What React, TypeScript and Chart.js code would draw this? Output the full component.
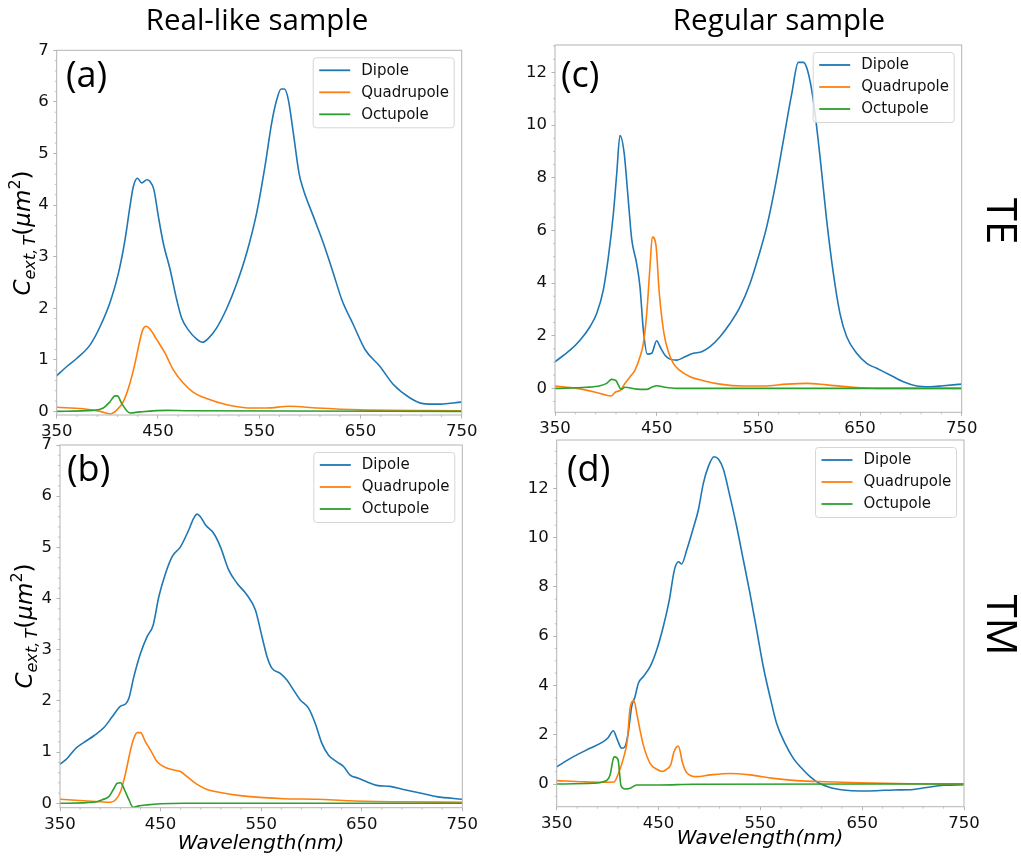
import React, { useEffect, useRef } from 'react';
import { Chart, registerables } from 'chart.js';

Chart.register(...registerables);

const W = 1021;
const H = 856;

// ---------- text & ticks ----------
const SERIES_LABELS = ['Dipole', 'Quadrupole', 'Octupole'];
const SERIES_COLORS = ['#1f77b4', '#ff7f0e', '#2ca02c'];
const X_TICKS = [350, 450, 550, 650, 750];
const X_MINOR_STEP = 20;
const Y_TICKS_REAL = [0, 1, 2, 3, 4, 5, 6, 7];
const Y_TICKS_REG = [0, 2, 4, 6, 8, 10, 12];
const COLUMN_TITLES = ['Real-like sample', 'Regular sample'];
const ROW_LABELS = ['TE', 'TM'];
const PANEL_LABELS = ['(a)', '(b)', '(c)', '(d)'];
const X_TITLE = 'Wavelength(nm)';

type Pt = [number, number];

// ---------- data: [wavelength nm, C_ext (um^2)] ----------
// (a) Real-like sample, TE
const A_DIPOLE: Pt[] = [
  [350, 0.69], [360, 0.87], [370, 1.03], [383, 1.29], [393, 1.65], [403, 2.13], [411, 2.68],
  [417.5, 3.33], [422.4, 3.98], [425.7, 4.36], [429.7, 4.52], [434, 4.43], [439, 4.49],
  [442, 4.46], [446, 4.3], [450.4, 3.78], [455.3, 3.26], [462, 2.75], [468.5, 2.17],
  [473.4, 1.81], [480, 1.58], [488.3, 1.4], [494, 1.34], [500, 1.42], [508, 1.62], [518, 2.0],
  [528, 2.49], [537.6, 3.07], [547.5, 3.85], [555.7, 4.75], [562.3, 5.59], [567.3, 6.04],
  [571.6, 6.25], [575, 6.25], [578.8, 6.04], [583.7, 5.4], [589.3, 4.62], [593.6, 4.3],
  [603.5, 3.78], [613.4, 3.26], [623.2, 2.68], [631.5, 2.17], [643, 1.68], [654.5, 1.2],
  [669.3, 0.87], [682.5, 0.52], [699, 0.26], [712, 0.15], [725, 0.14], [750, 0.18],
];
const A_QUAD: Pt[] = [
  [350, 0.08], [376, 0.05], [393, 0.0], [402.7, -0.05], [409, 0.02], [415.8, 0.19],
  [422.4, 0.55], [427.4, 0.94], [432.3, 1.39], [435, 1.58], [438.2, 1.65], [442, 1.6],
  [448.8, 1.39], [457, 1.13], [465, 0.81], [475, 0.55], [485, 0.37], [498, 0.25], [518, 0.13],
  [544, 0.065], [557, 0.065], [580, 0.1], [607, 0.065], [650, 0.03], [750, 0.013],
];
const A_OCT: Pt[] = [
  [350, 0], [386, 0.02], [396, 0.065], [402.7, 0.19], [407.6, 0.3], [410, 0.3], [414, 0.16],
  [422.4, -0.03], [432, -0.01], [458.6, 0.02], [478, 0.013], [750, 0],
];

// (b) Real-like sample, TM
const B_DIPOLE: Pt[] = [
  [350, 0.76], [357.3, 0.88], [365.5, 1.07], [373.8, 1.19], [383.7, 1.32], [393.7, 1.48],
  [401.9, 1.69], [410.2, 1.9], [415.2, 1.94], [418.5, 2.05], [423.4, 2.47], [430.1, 2.93],
  [436.7, 3.26], [442.6, 3.48], [448.3, 4.04], [454.9, 4.49], [461.5, 4.82], [469.8, 5.01],
  [478, 5.34], [483, 5.57], [486.3, 5.65], [489.6, 5.6], [494.6, 5.44], [502.9, 5.27],
  [509.5, 5.01], [517.7, 4.56], [526, 4.3], [535.9, 4.07], [544.2, 3.78], [550.8, 3.26],
  [555.8, 2.87], [560.7, 2.64], [569, 2.54], [575.6, 2.41], [582.3, 2.21], [588.9, 2.02],
  [597.1, 1.86], [603.8, 1.56], [610.4, 1.17], [617, 0.94], [625.3, 0.81], [631.9, 0.72],
  [638.5, 0.55], [646.8, 0.49], [655, 0.42], [665, 0.35], [678.2, 0.33], [691.4, 0.27],
  [708, 0.2], [724.5, 0.13], [750, 0.08],
];
const B_QUAD: Pt[] = [
  [350, 0.08], [373.8, 0.05], [390.4, 0.03], [400.3, 0.02], [405.3, 0.07], [410.2, 0.23],
  [415.2, 0.59], [420.1, 1.04], [423.4, 1.27], [426.8, 1.38], [430.1, 1.38], [435, 1.2],
  [440, 1.04], [446.6, 0.81], [454.9, 0.7], [463.2, 0.65], [469.8, 0.62], [476.4, 0.52],
  [486.3, 0.37], [496.2, 0.27], [509.5, 0.21], [529.3, 0.15], [552.5, 0.11], [572.3, 0.09],
  [605.4, 0.08], [638.5, 0.05], [688.1, 0.03], [750, 0.02],
];
const B_OCT: Pt[] = [
  [350, 0], [383.7, 0.02], [392, 0.07], [398.6, 0.13], [403.6, 0.29], [406.9, 0.39],
  [410.2, 0.4], [414.2, 0.26], [418.5, 0.07], [422.8, -0.08], [428.4, -0.05], [436.7, -0.03],
  [449.9, -0.01], [473, 0], [750, 0],
];

// (c) Regular sample, TE
const C_DIPOLE: Pt[] = [
  [350, 1.01], [364.8, 1.45], [374.6, 1.83], [384.4, 2.34], [391, 2.84], [397.5, 3.73],
  [402.5, 4.99], [407.4, 6.63], [410.7, 8.15], [413.9, 9.6], [417.9, 8.97], [422.1, 7.14],
  [425.4, 5.68], [430.3, 4.74], [433.6, 3.85], [436.9, 2.21], [440.8, 1.3], [445.1, 1.33],
  [450, 1.81], [453.3, 1.58], [458.2, 1.26], [463.1, 1.11], [469.7, 1.07], [477.9, 1.2],
  [486.1, 1.33], [494.3, 1.39], [502.5, 1.58], [512.3, 1.96], [522.1, 2.46], [532, 3.09],
  [541.8, 3.98], [550, 4.99], [558.2, 6.13], [566.4, 7.64], [574.6, 9.41], [582.8, 11.18],
  [589.3, 12.38], [594.3, 12.38], [598.5, 12.06], [604.1, 10.93], [610.7, 8.78],
  [617.2, 6.38], [623.8, 4.36], [630.3, 2.84], [636.9, 1.96], [646.7, 1.33], [656.6, 0.95],
  [666.4, 0.76], [679.5, 0.51], [692.6, 0.25], [705.7, 0.09], [718.9, 0.06], [732, 0.1],
  [750, 0.16],
];
const C_QUAD: Pt[] = [
  [350, 0.09], [371.3, 0.0], [387.7, -0.13], [397.5, -0.23], [405.1, -0.29], [410, -0.13],
  [413.9, -0.09], [418.9, 0.19], [423.8, 0.44], [428.7, 0.69], [433.6, 1.2], [436.9, 1.71],
  [440.2, 2.84], [443.4, 4.61], [445.7, 5.75], [449.3, 5.43], [452.6, 3.6], [457.2, 2.08],
  [461.5, 1.39], [466.4, 0.95], [473, 0.67], [482.8, 0.44], [495.9, 0.29], [512.3, 0.16],
  [535.2, 0.09], [554.9, 0.09], [577.9, 0.16], [597.5, 0.19], [617.2, 0.13], [643.4, 0.04],
  [666.4, 0.0], [750, 0],
];
const C_OCT: Pt[] = [
  [350, 0], [381, 0.04], [394.3, 0.1], [400.8, 0.19], [405.7, 0.34], [410, 0.29],
  [412.3, 0.13], [414.9, -0.04], [418.9, 0.04], [430.3, -0.03], [440.2, -0.04],
  [445.1, 0.04], [450, 0.1], [458.2, 0.04], [469.7, 0], [750, 0],
];

// (d) Regular sample, TM
const D_DIPOLE: Pt[] = [
  [350, 0.7], [366.4, 1.11], [382.7, 1.45], [395.8, 1.72], [400.7, 1.89], [405.6, 2.16],
  [409.6, 1.79], [413.8, 1.45], [417.1, 1.52], [420.4, 2.12], [423.6, 3.14], [426.9, 3.54],
  [430.2, 4.09], [435.1, 4.36], [441.7, 4.76], [448.2, 5.44], [454.7, 6.39], [460.6, 7.47],
  [465.6, 8.69], [469.5, 9.02], [472.7, 8.93], [477.7, 9.5], [483.6, 10.31], [489.1, 11.12],
  [494, 12.2], [498.9, 12.88], [504.5, 13.28], [508.8, 13.19], [513.7, 12.77], [520.2, 11.66],
  [526.8, 10.44], [533.3, 9.09], [539.8, 7.74], [546.4, 6.25], [552.9, 4.76], [559.5, 3.54],
  [566, 2.46], [574.2, 1.65], [582.4, 1.04], [590.6, 0.64], [598.8, 0.3], [607, 0.05],
  [618.4, -0.14], [631.5, -0.24], [647.9, -0.28], [664.2, -0.27], [680.6, -0.24],
  [700.2, -0.22], [713.3, -0.14], [729.7, -0.05], [750, -0.03],
];
const D_QUAD: Pt[] = [
  [350, 0.14], [376.2, 0.09], [395.8, 0.07], [406.3, 0.08], [410.6, 0.43], [415.5, 1.04],
  [419.4, 1.79], [422, 3.07], [425.9, 3.38], [428.6, 2.87], [431.8, 2.19], [435.1, 1.58],
  [441.7, 0.84], [448.2, 0.6], [454.1, 0.51], [458, 0.6], [461.9, 0.77], [465.2, 1.31],
  [469.5, 1.54], [473.7, 0.84], [477.7, 0.46], [487.5, 0.3], [500.6, 0.37], [520.2, 0.43],
  [539.8, 0.37], [562.8, 0.23], [585.7, 0.14], [615.1, 0.09], [647.9, 0.05], [697, 0.01],
  [750, 0],
];
const D_OCT: Pt[] = [
  [350, 0], [386, 0.03], [395.8, 0.09], [402.4, 0.37], [405.6, 1.04], [406.8, 1.1],
  [410.2, 0.99], [413.2, -0.08], [417.1, -0.2], [421.4, -0.18], [428.6, -0.04],
  [451.5, -0.04], [484.2, -0.01], [750, 0],
];

// ---------- styling ----------
const SPINE = '#b4b4b4';
const TICK_COLOR = '#111111';
const TICK_FONT = { family: '"DejaVu Sans"', size: 16.5 };
const Y_AXIS_W = 45;
const X_AXIS_H = 30;

type Extra = { text: string; x: number; y: number; rot: number; font: string };
type PanelCfg = {
  key: string;
  series: Pt[][];
  yMin: number;
  yMax: number;
  yTicks: number[];
  yMinor: number;
  area: { l: number; r: number; t: number; b: number };
  label: string;
  labelPos: [number, number];
  yTitle: [number, number] | null;
  xTitle: [number, number] | null;
  extras: Extra[];
};

const TITLE_FONT = '29.5px "Open Sans"';
const ROW_FONT = '42px "Open Sans"';

const PANELS: PanelCfg[] = [
  {
    key: 'a', series: [A_DIPOLE, A_QUAD, A_OCT], yMin: -0.07, yMax: 7, yTicks: Y_TICKS_REAL, yMinor: 0.2,
    area: { l: 56.7, r: 461.7, t: 50.3, b: 415 }, label: PANEL_LABELS[0], labelPos: [66, 87],
    yTitle: [29.8, 233], xTitle: null,
    extras: [{ text: COLUMN_TITLES[0], x: 257, y: 30, rot: 0, font: TITLE_FONT }],
  },
  {
    key: 'b', series: [B_DIPOLE, B_QUAD, B_OCT], yMin: -0.086, yMax: 7, yTicks: Y_TICKS_REAL, yMinor: 0.2,
    area: { l: 60, r: 462.3, t: 445, b: 807.7 }, label: PANEL_LABELS[1], labelPos: [67, 481],
    yTitle: [31.5, 626], xTitle: [261, 849], extras: [],
  },
  {
    key: 'c', series: [C_DIPOLE, C_QUAD, C_OCT], yMin: -0.91, yMax: 13.04, yTicks: Y_TICKS_REG, yMinor: 0.5,
    area: { l: 555, r: 961.7, t: 45, b: 412.3 }, label: PANEL_LABELS[2], labelPos: [561, 87],
    yTitle: null, xTitle: null,
    extras: [
      { text: COLUMN_TITLES[1], x: 779, y: 30, rot: 0, font: TITLE_FONT },
      { text: ROW_LABELS[0], x: 987, y: 221, rot: Math.PI / 2, font: ROW_FONT },
    ],
  },
  {
    key: 'd', series: [D_DIPOLE, D_QUAD, D_OCT], yMin: -0.92, yMax: 13.96, yTicks: Y_TICKS_REG, yMinor: 0.5,
    area: { l: 556.7, r: 964, t: 440, b: 806.7 }, label: PANEL_LABELS[3], labelPos: [567, 481],
    yTitle: null, xTitle: [760, 844],
    extras: [{ text: ROW_LABELS[1], x: 987, y: 625, rot: Math.PI / 2, font: ROW_FONT }],
  },
];

function drawYTitle(ctx: CanvasRenderingContext2D, x: number, cy: number, S: number) {
  const segs = [
    { t: 'C', k: 1, it: true, dy: 0 },
    { t: 'ext,\u2009T', k: 0.7, it: true, dy: 0.22 },
    { t: '(', k: 1, it: false, dy: 0 },
    { t: 'μm', k: 1, it: true, dy: 0 },
    { t: '2', k: 0.7, it: false, dy: -0.42 },
    { t: ')', k: 1, it: false, dy: 0 },
  ];
  const fontOf = (s: { k: number; it: boolean }) =>
    `${s.it ? 'italic ' : ''}${(S * s.k).toFixed(1)}px "DejaVu Sans"`;
  const widths = segs.map((s) => {
    ctx.font = fontOf(s);
    return ctx.measureText(s.t).width;
  });
  const total = widths.reduce((a, b) => a + b, 0);
  ctx.save();
  ctx.translate(x, cy);
  ctx.rotate(-Math.PI / 2);
  ctx.fillStyle = '#000';
  ctx.textAlign = 'left';
  ctx.textBaseline = 'alphabetic';
  let cur = -total / 2;
  segs.forEach((s, i) => {
    ctx.font = fontOf(s);
    ctx.fillText(s.t, cur, s.dy * S);
    cur += widths[i];
  });
  ctx.restore();
}

function decorPlugin(p: PanelCfg) {
  return {
    id: 'decor_' + p.key,
    afterDraw(chart: any) {
      const ctx: CanvasRenderingContext2D = chart.ctx;
      const ca = chart.chartArea;
      const xs = chart.scales.x;
      const ys = chart.scales.y;
      ctx.save();

      // frame
      ctx.strokeStyle = SPINE;
      ctx.lineWidth = 1;
      ctx.strokeRect(ca.left, ca.top, ca.right - ca.left, ca.bottom - ca.top);

      // minor ticks
      ctx.lineWidth = 0.8;
      ctx.beginPath();
      for (let v = X_TICKS[0]; v <= X_TICKS[X_TICKS.length - 1]; v += X_MINOR_STEP) {
        if (X_TICKS.includes(v)) continue;
        const px = xs.getPixelForValue(v);
        ctx.moveTo(px, ca.bottom);
        ctx.lineTo(px, ca.bottom + 2);
      }
      const k0 = Math.ceil(p.yMin / p.yMinor - 1e-9);
      const k1 = Math.floor(p.yMax / p.yMinor + 1e-9);
      for (let k = k0; k <= k1; k++) {
        const v = k * p.yMinor;
        if (p.yTicks.some((t) => Math.abs(t - v) < 1e-6)) continue;
        const py = ys.getPixelForValue(v);
        ctx.moveTo(ca.left, py);
        ctx.lineTo(ca.left - 2, py);
      }
      ctx.stroke();

      // legend
      const bw = 141;
      const bh = 70;
      const bx = ca.right - 7.5 - bw;
      const by = ca.top + 7.5;
      const r = 3;
      ctx.beginPath();
      ctx.moveTo(bx + r, by);
      ctx.lineTo(bx + bw - r, by);
      ctx.quadraticCurveTo(bx + bw, by, bx + bw, by + r);
      ctx.lineTo(bx + bw, by + bh - r);
      ctx.quadraticCurveTo(bx + bw, by + bh, bx + bw - r, by + bh);
      ctx.lineTo(bx + r, by + bh);
      ctx.quadraticCurveTo(bx, by + bh, bx, by + bh - r);
      ctx.lineTo(bx, by + r);
      ctx.quadraticCurveTo(bx, by, bx + r, by);
      ctx.closePath();
      ctx.fillStyle = 'rgba(255,255,255,0.8)';
      ctx.fill();
      ctx.strokeStyle = '#d6d6d6';
      ctx.lineWidth = 1;
      ctx.stroke();
      chart.data.datasets.forEach((ds: any, i: number) => {
        const yy = by + 12.5 + i * 22;
        ctx.strokeStyle = ds.borderColor;
        ctx.lineWidth = 1.8;
        ctx.beginPath();
        ctx.moveTo(bx + 6, yy);
        ctx.lineTo(bx + 37, yy);
        ctx.stroke();
        ctx.fillStyle = '#111';
        ctx.font = '15px "DejaVu Sans"';
        ctx.textAlign = 'left';
        ctx.textBaseline = 'middle';
        ctx.fillText(ds.label, bx + 48, yy + 0.5);
      });

      // panel label
      ctx.fillStyle = '#000';
      ctx.font = '36px "Open Sans"';
      ctx.textAlign = 'left';
      ctx.textBaseline = 'alphabetic';
      ctx.fillText(p.label, p.labelPos[0], p.labelPos[1]);

      // axis titles
      if (p.yTitle) drawYTitle(ctx, p.yTitle[0], p.yTitle[1], 23);
      if (p.xTitle) {
        ctx.font = 'italic 20px "DejaVu Sans"';
        ctx.textAlign = 'center';
        ctx.textBaseline = 'alphabetic';
        ctx.fillStyle = '#000';
        ctx.fillText(X_TITLE, p.xTitle[0], p.xTitle[1]);
      }

      // figure texts
      p.extras.forEach((e) => {
        ctx.save();
        ctx.translate(e.x, e.y);
        ctx.rotate(e.rot);
        ctx.font = e.font;
        ctx.fillStyle = '#000';
        ctx.textAlign = 'center';
        ctx.textBaseline = 'alphabetic';
        ctx.fillText(e.text, 0, 0);
        ctx.restore();
      });

      ctx.restore();
    },
  };
}

function buildConfig(p: PanelCfg): any {
  const a = p.area;
  return {
    type: 'line',
    data: {
      datasets: p.series.map((s, i) => ({
        label: SERIES_LABELS[i],
        data: s.map(([x, y]) => ({ x, y })),
        borderColor: SERIES_COLORS[i],
        backgroundColor: SERIES_COLORS[i],
        borderWidth: 1.6,
        pointRadius: 0,
        pointHoverRadius: 0,
        fill: false,
        cubicInterpolationMode: 'monotone',
        order: -i,
      })),
    },
    options: {
      responsive: false,
      animation: false,
      events: [],
      layout: {
        padding: { left: a.l - Y_AXIS_W, top: a.t, right: W - a.r, bottom: H - a.b - X_AXIS_H },
      },
      plugins: { legend: { display: false }, tooltip: { enabled: false }, title: { display: false } },
      scales: {
        x: {
          type: 'linear',
          min: 350,
          max: 750,
          afterFit: (s: any) => { s.height = X_AXIS_H; },
          afterBuildTicks: (s: any) => { s.ticks = X_TICKS.map((v) => ({ value: v })); },
          ticks: { font: TICK_FONT, color: TICK_COLOR, padding: 3.5, maxRotation: 0, autoSkip: false },
          grid: { drawOnChartArea: false, drawTicks: true, tickLength: 3.5, tickColor: SPINE, tickWidth: 1 },
          border: { display: false },
        },
        y: {
          type: 'linear',
          min: p.yMin,
          max: p.yMax,
          afterFit: (s: any) => { s.width = Y_AXIS_W; },
          afterBuildTicks: (s: any) => { s.ticks = p.yTicks.map((v) => ({ value: v })); },
          ticks: { font: TICK_FONT, color: TICK_COLOR, padding: 4.5, autoSkip: false, callback: (v: any) => String(v) },
          grid: { drawOnChartArea: false, drawTicks: true, tickLength: 3.5, tickColor: SPINE, tickWidth: 1 },
          border: { display: false },
        },
      },
    },
    plugins: [decorPlugin(p)],
  };
}

function Panel({ cfg }: { cfg: PanelCfg }) {
  const ref = useRef<HTMLCanvasElement>(null);
  useEffect(() => {
    const chart = new Chart(ref.current as HTMLCanvasElement, buildConfig(cfg));
    return () => chart.destroy();
  }, [cfg]);
  return (
    <canvas
      ref={ref}
      width={W}
      height={H}
      style={{ position: 'absolute', left: 0, top: 0, width: W, height: H }}
    />
  );
}

export default function App() {
  return (
    <div style={{ position: 'absolute', left: 0, top: 0, width: W, height: H, background: '#fff', overflow: 'hidden' }}>
      {PANELS.map((p) => (
        <Panel key={p.key} cfg={p} />
      ))}
    </div>
  );
}
